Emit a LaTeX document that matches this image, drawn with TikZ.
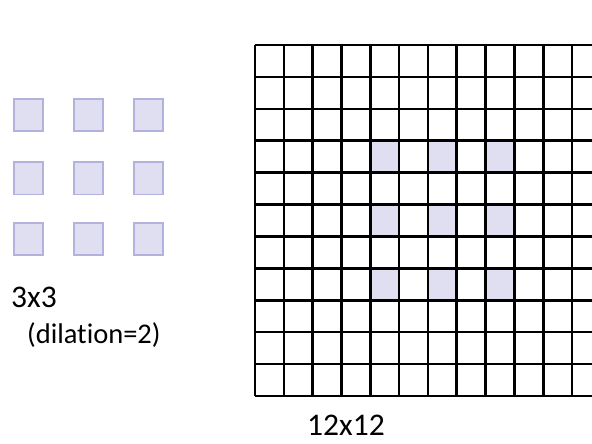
\documentclass[tikz,border=0pt]{standalone}
\usepackage{fontspec}
\setmainfont{Carlito}[Ligatures=NoCommon]
\definecolor{lav}{RGB}{224,223,242}
\definecolor{lavedge}{RGB}{178,178,220}
\tikzset{
  kernbox/.style={draw=lavedge, fill=lav, line width=1.8pt, minimum width=29.2pt, minimum height=32.2pt, inner sep=0pt},
  gridline/.style={draw=black, line width=2.6pt},
  cellfill/.style={fill=lav},
  bigtext/.style={anchor=base west, inner sep=0pt, font=\fontsize{31.5}{36}\selectfont},
  smalltext/.style={anchor=base west, inner sep=0pt, font=\fontsize{28.5}{32}\selectfont}
}
\begin{document}
\begin{tikzpicture}[x=1pt,y=1pt]
\useasboundingbox (0,0) rectangle (592,444);
\clip (0,0) rectangle (592,444);
% kernel 3x3 squares
\foreach \c/\x in {0/28.5,1/88.5,2/148.5}{
  \foreach \r/\y in {0/329,1/265.5,2/205}{
    \node[kernbox] (k\r\c) at (\x,\y) {};
  }
}
% highlighted cells in grid
\def\cw{28.82}
\def\ch{31.91}
\foreach \c in {4,6,8}{
  \foreach \r in {3,5,7}{
    \fill[cellfill] (255+\c*\cw, 399-\r*\ch-\ch) rectangle ++(\cw,\ch);
  }
}
% grid
\foreach \i in {0,...,12}{
  \draw[gridline] (255+\i*\cw, 399) -- (255+\i*\cw, 48);
}
\foreach \j in {0,...,11}{
  \draw[gridline] (255, 399-\j*\ch) -- (610, 399-\j*\ch);
}
% labels
\node[bigtext] (lk) at (11,136) {3x3};
\node[smalltext] (ld) at (27,100) {(dilation=2)};
\node[bigtext] (lg) at (307,8) {12x12};
\end{tikzpicture}
\end{document}
